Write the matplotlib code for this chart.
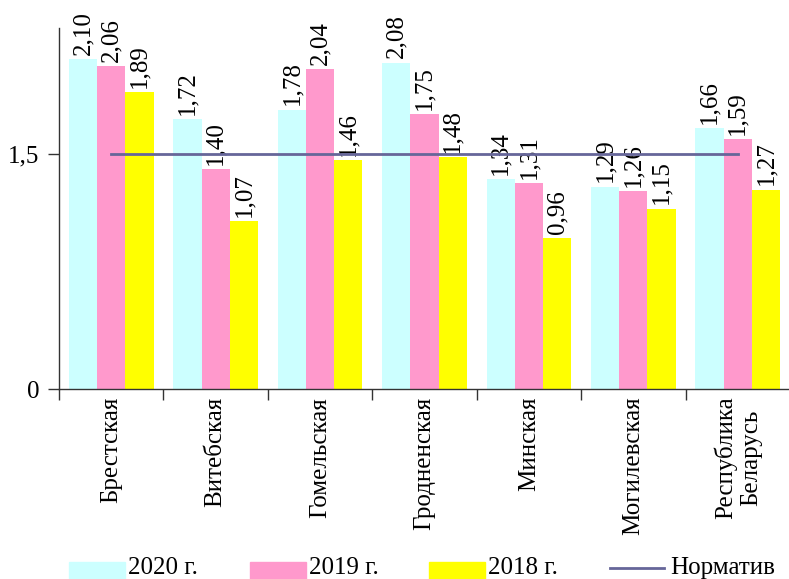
import matplotlib

matplotlib.use("Agg")
import matplotlib.pyplot as plt
import numpy as np
from matplotlib.lines import Line2D
from matplotlib.patches import Rectangle

# --- data ------------------------------------------------------------------
regions = ["Брестская", "Витебская", "Гомельская", "Гродненская", "Минская",
           "Могилевская", "Республика\nБеларусь"]
v2020 = [2.10, 1.72, 1.78, 2.08, 1.34, 1.29, 1.66]
v2019 = [2.06, 1.40, 2.04, 1.75, 1.31, 1.26, 1.59]
v2018 = [1.89, 1.07, 1.46, 1.48, 0.96, 1.15, 1.27]
norm = 1.5
series = [("2020 г.", v2020, "#ccffff"),
          ("2019 г.", v2019, "#ff99cc"),
          ("2018 г.", v2018, "#ffff00")]
NORM_COLOR = "#666699"

plt.rcParams.update({
    "font.family": ["Liberation Serif", "DejaVu Serif"],
    "font.size": 18,
})

W, H = 789, 579
fig = plt.figure(figsize=(W / 100, H / 100), dpi=100)
ax = fig.add_axes([59 / W, 190 / H, 731 / W, 361 / H])

x = np.arange(len(regions))
w = 0.27
for k, (lab, vals, col) in enumerate(series):
    ax.bar(x + (k - 1) * w, vals, w, color=col, label=lab, zorder=2)
    for xi, v in zip(x + (k - 1) * w, vals):
        ax.annotate(f"{v:.2f}".replace(".", ","), (xi, v),
                    textcoords="offset points", xytext=(0, 3),
                    rotation=90, ha="center", va="bottom", fontsize=18)

ax.plot(x, [norm] * len(x), color=NORM_COLOR, lw=2, zorder=3, label="Норматив")

ax.set_xlim(-0.5, len(regions) - 0.5)
ax.set_ylim(0, 2.3)
ax.set_yticks([0, 1.5])
ax.set_yticklabels(["0", "1,5"])
ax.set_xticks(np.arange(len(regions) + 1) - 0.5)
ax.set_xticklabels([])
ax.tick_params(axis="y", direction="out", length=8, width=1, pad=6,
               colors="#333333", labelcolor="black")
ax.tick_params(axis="x", direction="out", length=8, width=1, colors="#333333")
for xi, name in zip(x, regions):
    ax.text(xi, -0.05, name, rotation=90, ha="center", va="top",
            fontsize=18, multialignment="center")

for s in ["top", "right"]:
    ax.spines[s].set_visible(False)
for s in ["left", "bottom"]:
    ax.spines[s].set_color("#333333")
    ax.spines[s].set_linewidth(1)

# legend, laid out by hand along the bottom edge like the original
for (lab, _, col), x0 in zip(series, [69, 250, 429]):
    fig.add_artist(Rectangle((x0 / W, 0), 56 / W, 17 / H, color=col,
                             transform=fig.transFigure))
    fig.text((x0 + 59) / W, 11 / H, lab, ha="left", va="center", fontsize=18)
fig.add_artist(Line2D([610 / W, 664 / W], [11 / H, 11 / H], color=NORM_COLOR,
                      lw=2, transform=fig.transFigure))
fig.text(670 / W, 11 / H, "Норматив", ha="left", va="center", fontsize=18)

fig.savefig("out.png", dpi=100)
